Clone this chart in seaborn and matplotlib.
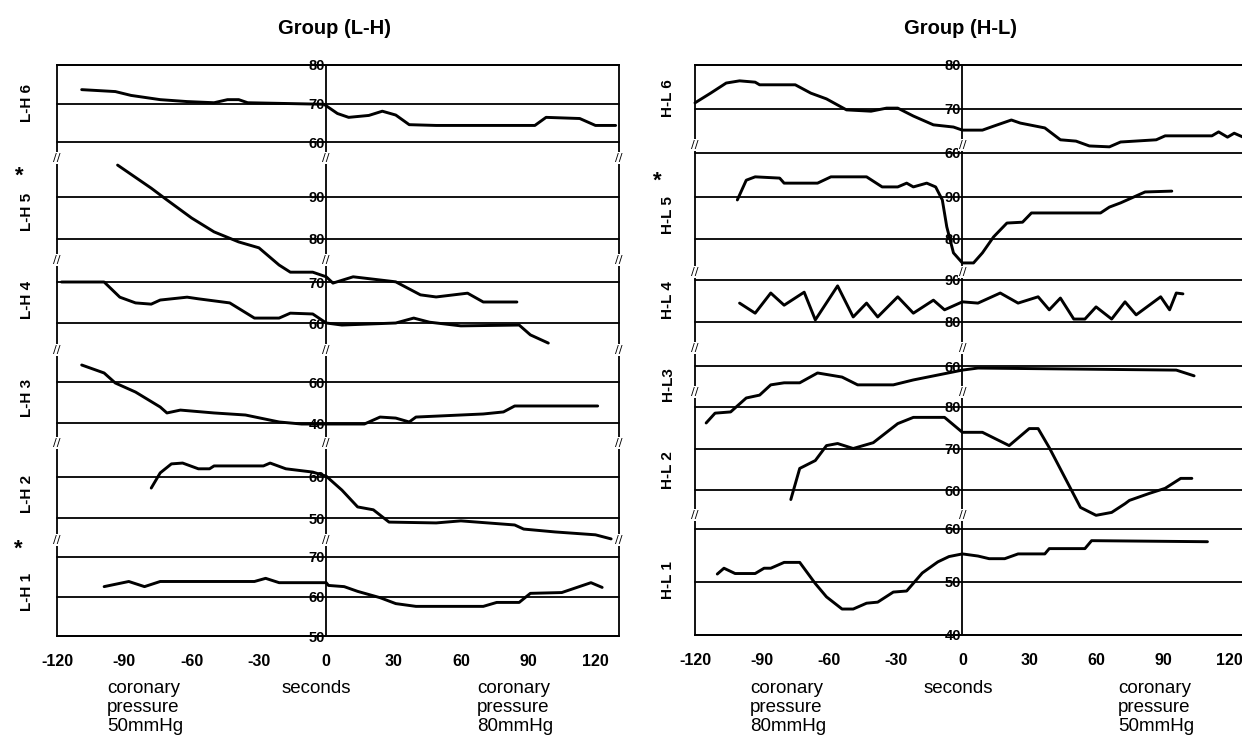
import pandas as pd
import matplotlib.pyplot as plt
import seaborn as sns

sns.set_theme(style='white')
plt.rcParams['font.family'] = ['Liberation Sans Narrow', 'Liberation Sans', 'DejaVu Sans']
plt.rcParams['axes.unicode_minus'] = False
plt.rcParams['text.color'] = 'black'
plt.rcParams['xtick.color'] = 'black'
plt.rcParams['ytick.color'] = 'black'

# ---- data: time (s) and value for every trace ----
lh6_t = [-109, -94, -87, -74, -62, -50, -44, -39, -35, -18, -1, 5, 10, 19, 25, 31, 37, 49, 93, 98, 113, 120, 129]
lh6_v = [73.6, 73.1, 72.1, 71.0, 70.5, 70.2, 71.0, 71.0, 70.2, 70.0, 69.8, 67.4, 66.4, 66.9, 68.0, 67.0, 64.5, 64.3,
         64.3, 66.4, 66.1, 64.3, 64.3]
lh5_t = [-93, -78, -71, -60, -50, -39, -30, -21, -16, -6, 0, 3, 12, 31, 42, 49, 63, 70, 85]
lh5_v = [97.6, 92.1, 89.3, 85.0, 81.7, 79.3, 77.9, 73.8, 72.1, 72.1, 71.0, 69.5, 71.0, 69.8, 66.7, 66.2, 67.1, 65.0, 65.0]
lh4_t = [-118, -99, -92, -85, -78, -74, -62, -57, -43, -32, -21, -16, -6, 0, 7, 31, 39, 46, 60, 86, 91, 99]
lh4_v = [70.0, 70.0, 66.3, 64.9, 64.6, 65.6, 66.3, 65.9, 64.9, 61.2, 61.2, 62.4, 62.2, 60.0, 59.5, 60.0, 61.2, 60.2,
         59.3, 59.5, 57.1, 55.1]
lh3_t = [-109, -99, -94, -85, -74, -71, -65, -50, -36, -21, -11, 17, 24, 31, 37, 40, 70, 79, 84, 121]
lh3_v = [68.3, 64.4, 59.5, 55.1, 47.8, 44.9, 46.3, 44.9, 43.9, 40.5, 39.5, 39.5, 42.9, 42.4, 40.5, 42.9, 44.4, 45.4,
         48.3, 48.3]
lh2_t = [-78, -74, -69, -64, -57, -52, -50, -28, -25, -18, -6, 0, 7, 14, 21, 28, 49, 60, 84, 88, 102, 120, 127]
lh2_v = [57.3, 61.0, 63.2, 63.4, 62.0, 62.0, 62.7, 62.7, 63.4, 62.0, 61.2, 60.2, 56.8, 52.7, 52.0, 49.0, 48.8, 49.3,
         48.3, 47.3, 46.6, 45.9, 44.9]
lh1_t = [-99, -88, -81, -74, -32, -27, -21, 0, 1, 8, 14, 24, 31, 40, 70, 76, 86, 91, 105, 118, 123]
lh1_v = [62.5, 63.8, 62.5, 63.8, 63.8, 64.6, 63.5, 63.5, 62.8, 62.5, 61.3, 59.7, 58.2, 57.5, 57.5, 58.5, 58.5, 60.8,
         61.0, 63.5, 62.3]

hl6_t = [-120, -113, -106, -100, -93, -91, -75, -68, -61, -52, -41, -34, -29, -22, -13, -4, 0, 9, 14, 22, 26, 37, 44,
         51, 57, 66, 71, 87, 91, 112, 115, 119, 122, 126]
hl6_v = [71.4, 73.6, 75.9, 76.4, 76.1, 75.5, 75.5, 73.6, 72.3, 69.8, 69.5, 70.2, 70.2, 68.4, 66.4, 65.9, 65.2, 65.2,
         66.1, 67.5, 66.8, 65.7, 63.0, 62.7, 61.6, 61.4, 62.5, 63.0, 63.9, 63.9, 64.8, 63.6, 64.5, 63.6]
hl5_t = [-101, -97, -93, -82, -80, -65, -59, -43, -36, -29, -25, -22, -16, -12, -9, -7, -4, 0, 5, 9, 14, 20, 27, 31,
         62, 66, 71, 82, 94]
hl5_v = [89.3, 94.0, 94.8, 94.5, 93.3, 93.3, 94.8, 94.8, 92.4, 92.4, 93.3, 92.4, 93.3, 92.4, 89.3, 82.9, 76.7, 74.3,
         74.3, 76.7, 80.5, 83.8, 84.0, 86.2, 86.2, 87.6, 88.6, 91.2, 91.4]
hl4_t = [-100, -93, -86, -80, -71, -66, -56, -49, -43, -38, -29, -22, -13, -8, 0, 7, 17, 25, 34, 39, 44, 50, 55, 60,
         67, 73, 78, 89, 93, 96, 99]
hl4_v = [84.5, 82.1, 86.9, 84.0, 87.1, 80.5, 88.6, 81.2, 84.5, 81.2, 86.0, 82.1, 85.2, 82.9, 84.8, 84.5, 86.9, 84.5,
         86.0, 82.9, 85.7, 80.7, 80.7, 83.6, 80.7, 84.8, 81.7, 86.0, 82.9, 86.9, 86.7]
hl3_t = [-115, -111, -104, -97, -91, -86, -80, -73, -65, -54, -47, -31, -22, -11, 0, 7, 96, 104]
hl3_v = [46.1, 48.5, 48.8, 52.2, 52.9, 55.4, 55.9, 55.9, 58.3, 57.3, 55.4, 55.4, 56.6, 57.8, 59.0, 59.5, 59.0, 57.6]
hl2_t = [-77, -73, -66, -61, -56, -49, -40, -29, -22, -8, 0, 9, 21, 30, 34, 39, 46, 53, 60, 67, 73, 75, 84, 91, 98, 103]
hl2_v = [57.7, 65.2, 67.1, 70.7, 71.2, 70.0, 71.4, 76.0, 77.5, 77.5, 73.9, 73.9, 70.7, 74.8, 74.8, 70.2, 63.0, 55.8,
         53.9, 54.6, 56.7, 57.5, 59.2, 60.4, 62.8, 62.8]
hl1_t = [-110, -107, -102, -93, -89, -86, -80, -73, -66, -61, -54, -49, -43, -38, -31, -25, -18, -11, -6, 0, 7, 12, 19,
         25, 37, 39, 55, 58, 110]
hl1_v = [51.5, 52.6, 51.6, 51.6, 52.6, 52.6, 53.7, 53.7, 49.7, 47.2, 44.9, 44.9, 46.0, 46.2, 48.1, 48.3, 51.7, 53.8,
         54.8, 55.3, 54.9, 54.4, 54.4, 55.3, 55.3, 56.3, 56.3, 57.8, 57.6]

left_names = ['L-H 6', 'L-H 5', 'L-H 4', 'L-H 3', 'L-H 2', 'L-H 1']
right_names = ['H-L 6', 'H-L 5', 'H-L 4', 'H-L3', 'H-L 2', 'H-L 1']
left_ticks = [[80, 70, 60], [90, 80], [70, 60], [60, 40], [60, 50], [70, 60, 50]]
right_ticks = [[80, 70, 60], [90, 80], [90, 80], [60], [80, 70, 60], [60, 50, 40]]
left_ylims = [(60, 80), (80, 90), (60, 70), (40, 60), (50, 60), (50, 70)]
right_ylims = [(60, 80), (80, 90), (80, 90), (50, 60), (60, 80), (40, 60)]
x_ticks = [-120, -90, -60, -30, 0, 30, 60, 90, 120]

left_series = [(lh6_t, lh6_v), (lh5_t, lh5_v), (lh4_t, lh4_v), (lh3_t, lh3_v), (lh2_t, lh2_v), (lh1_t, lh1_v)]
right_series = [(hl6_t, hl6_v), (hl5_t, hl5_v), (hl4_t, hl4_v), (hl3_t, hl3_v), (hl2_t, hl2_v), (hl1_t, hl1_v)]

# ---- layout (pixels) ----
W, H = 1242, 751
left_px = [(65, 142), (197, 239), (282, 323), (382, 423), (477, 518), (557, 636)]
right_px = [(65, 153), (197, 239), (280, 322), (366, 407), (407, 490), (529, 635)]
left_breaks = [158, 260, 350, 443, 540]
right_breaks = [145, 272, 348, 392, 515]
left_label_y = [103, 212, 300, 398, 494, 592]
right_label_y = [98, 215, 300, 384, 470, 580]


def rect(x0, x1, y0, y1):
    return [x0 / W, 1 - y1 / H, (x1 - x0) / W, (y1 - y0) / H]


fig = plt.figure(figsize=(W / 100, H / 100), dpi=100)
fig.patch.set_facecolor('white')

panels = [
    dict(title='Group (L-H)', tx=335, x0=57, x1=619, xlim=(-120, 130.5), names=left_names, ticks=left_ticks,
         ylims=left_ylims, px=left_px, series=left_series, breaks=left_breaks, label_x=27, label_y=left_label_y,
         stars=[(19, 176), (18, 549)], right=True,
         notes=[(107, 'coronary\npressure\n50mmHg', 'left'), (316, 'seconds', 'center'),
                (477, 'coronary\npressure\n80mmHg', 'left')]),
    dict(title='Group (H-L)', tx=960, x0=695, x1=1242, xlim=(-120, 125.5), names=right_names, ticks=right_ticks,
         ylims=right_ylims, px=right_px, series=right_series, breaks=right_breaks, label_x=668, label_y=right_label_y,
         stars=[(657, 181)], right=False,
         notes=[(750, 'coronary\npressure\n80mmHg', 'left'), (958, 'seconds', 'center'),
                (1118, 'coronary\npressure\n50mmHg', 'left')]),
]

for p in panels:
    top, bottom = p['px'][0][0], p['px'][-1][1]
    frame = fig.add_axes(rect(p['x0'], p['x1'], top, bottom))
    frame.set_facecolor('white')
    frame.set_xlim(*p['xlim'])
    frame.set_ylim(0, 1)
    frame.set_yticks([])
    frame.set_xticks(x_ticks)
    frame.set_xticklabels([str(v) for v in x_ticks], fontweight='bold')
    frame.tick_params(axis='x', direction='in', length=5, width=1.2, color='black', labelsize=11.5, pad=13)
    for side, sp in frame.spines.items():
        sp.set_color('black')
        sp.set_linewidth(1.3)
    frame.spines['right'].set_visible(p['right'])
    frame.axvline(0, color='black', lw=1.3)

    for i, (t, v) in enumerate(p['series']):
        y0, y1 = p['px'][i]
        ax = fig.add_axes(rect(p['x0'], p['x1'], y0, y1))
        ax.patch.set_alpha(0)
        for sp in ax.spines.values():
            sp.set_visible(False)
        ax.spines['left'].set_position(('data', 0))
        for tv in p['ticks'][i]:
            ax.axhline(tv, color='black', lw=1.3, clip_on=False, zorder=1)
        sns.lineplot(x=t, y=v, ax=ax, color='black', lw=2.1, estimator=None, sort=False,
                     clip_on=False, zorder=3)
        ax.set_xlim(*p['xlim'])
        ax.set_ylim(*p['ylims'][i])
        ax.set_xticks([])
        ax.set_yticks(p['ticks'][i])
        ax.set_yticklabels([str(tv) for tv in p['ticks'][i]], fontweight='bold')
        ax.tick_params(axis='y', length=0, pad=1, labelsize=10.5)
        ax.set_xlabel('')
        ax.set_ylabel('')

        fig.text(p['label_x'] / W, 1 - p['label_y'][i] / H, p['names'][i], rotation=90, ha='center',
                 va='center', fontsize=11, fontweight='bold', family=['Liberation Sans', 'DejaVu Sans'])

    for sx, sy in p['stars']:
        fig.text(sx / W, 1 - sy / H, '*', ha='center', va='center', fontsize=16, fontweight='bold',
                 family=['Liberation Sans', 'DejaVu Sans'])

    # break marks on the vertical lines
    span = p['xlim'][1] - p['xlim'][0]
    xs = [-120, 0] + ([p['xlim'][1]] if p['right'] else [])
    for xv in xs:
        xpx = p['x0'] + (xv - p['xlim'][0]) / span * (p['x1'] - p['x0'])
        for yb in p['breaks']:
            fig.text(xpx / W, 1 - yb / H, '//', ha='center', va='center', fontsize=8, color='black',
                     family=['DejaVu Sans'],
                     bbox=dict(facecolor='white', edgecolor='none', pad=0.5))

    fig.text(p['tx'] / W, 1 - 28 / H, p['title'], ha='center', va='center', fontsize=14.5, fontweight='bold',
             family=['Liberation Sans', 'DejaVu Sans'])
    for nx, txt, ha in p['notes']:
        fig.text(nx / W, 1 - 680 / H, txt, ha=ha, va='top', fontsize=13.5, linespacing=1.15)

fig.savefig('out.png', dpi=100, facecolor='white')
